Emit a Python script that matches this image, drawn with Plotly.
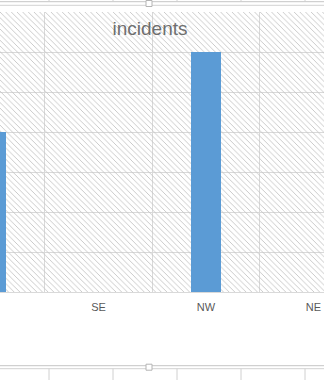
import plotly.graph_objects as go

# Data
categories = ["SW", "SE", "NW", "NE"]
incidents = [4, 0, 6, 0]
y_max = 7

W, H = 324, 380
PLOT_TOP, PLOT_BOTTOM = 12, 292

fig = go.Figure()

# hatched plot-area background (decorative pattern fill)
fig.add_trace(go.Bar(
    x=["SE"], y=[y_max], width=[20], base=[0],
    marker=dict(color="rgba(0,0,0,0)", line=dict(width=0),
                pattern=dict(shape="\\", size=4, solidity=0.22,
                             fgcolor="#c4c4c4", fillmode="replace")),
    hoverinfo="skip", showlegend=False,
))

fig.add_trace(go.Bar(
    x=categories, y=incidents, width=0.28,
    marker=dict(color="#5b9bd5", line=dict(width=0)),
    showlegend=False,
))

def px2paper_x(px):
    return px / W

def px2paper_y(py):
    return (PLOT_BOTTOM - py) / (PLOT_BOTTOM - PLOT_TOP)

shapes = []
# sheet/frame lines at top and bottom
for py, col in [(1.7, "#c6c6c6"), (5.3, "#d2d2d2"), (365.7, "#c6c6c6"), (368.7, "#d2d2d2")]:
    shapes.append(dict(type="line", xref="paper", yref="paper",
                       x0=px2paper_x(0), x1=px2paper_x(W),
                       y0=px2paper_y(py), y1=px2paper_y(py),
                       line=dict(color=col, width=1), layer="above"))
for vx in [49, 113, 177, 241, 305]:
    shapes.append(dict(type="line", xref="paper", yref="paper",
                       x0=px2paper_x(vx), x1=px2paper_x(vx),
                       y0=px2paper_y(0), y1=px2paper_y(1.7),
                       line=dict(color="#d0d0d0", width=1)))
    shapes.append(dict(type="line", xref="paper", yref="paper",
                       x0=px2paper_x(vx), x1=px2paper_x(vx),
                       y0=px2paper_y(368.7), y1=px2paper_y(380),
                       line=dict(color="#d0d0d0", width=1)))
# selection handles
for py in [3.5, 367.2]:
    shapes.append(dict(type="rect", xref="paper", yref="paper",
                       x0=px2paper_x(146), x1=px2paper_x(152),
                       y0=px2paper_y(py - 3), y1=px2paper_y(py + 3),
                       fillcolor="white", line=dict(color="#b4b4b4", width=1),
                       layer="above"))

fig.update_layout(
    width=W, height=H,
    margin=dict(l=0, r=0, t=PLOT_TOP, b=H - PLOT_BOTTOM, pad=0),
    paper_bgcolor="white", plot_bgcolor="white",
    barmode="overlay",
    bargap=0,
    title=dict(text="incidents", x=150 / W, xanchor="center",
               y=1 - 28 / H, yanchor="middle", yref="container",
               font=dict(family="Liberation Sans, Arial, sans-serif",
                         size=19, color="#6e6e6e")),
    xaxis=dict(type="category", categoryorder="array", categoryarray=categories,
               range=[0.084, 3.098], tickson="boundaries",
               showgrid=True, gridcolor="#d9d9d9", gridwidth=1,
               ticks="", showline=True, linecolor="#d9d9d9", linewidth=1,
               ticklabelstandoff=5,
               tickfont=dict(family="Liberation Sans, Arial, sans-serif",
                             size=11, color="#595959"),
               fixedrange=True),
    yaxis=dict(range=[0, y_max], dtick=1, showgrid=True, gridcolor="#d9d9d9",
               gridwidth=1, zeroline=False, showticklabels=False, ticks="",
               fixedrange=True),
    shapes=shapes,
)

fig.write_html("out.html")
